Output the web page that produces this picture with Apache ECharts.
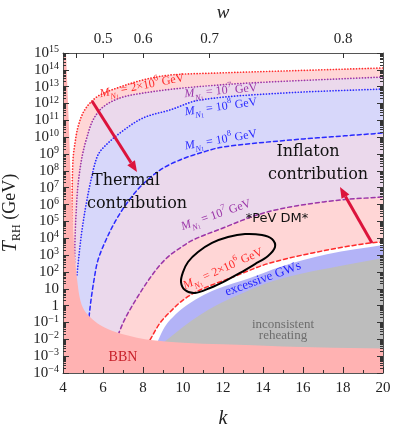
<!DOCTYPE html>
<html><head><meta charset="utf-8">
<script src="https://cdn.jsdelivr.net/npm/echarts@6.0.0/dist/echarts.min.js"></script>
<style>html,body{margin:0;padding:0;background:#fff;}#chart{width:394px;height:428px;}</style>
</head><body><div id="chart"></div>
<script>
// ---------------- data (k, log10 T_RH) ----------------
const kRange = [4, 20];
const kStep = 2;
const logTRange = [-4, 15];
const wTicks = [0.4, 0.5, 0.6, 0.7, 0.8];
const wLabels = [0.5, 0.6, 0.7, 0.8];

const bbnEdge = [[4.15,15],[4.3,10.5],[4.4,7],[4.5,4.5],[4.6,2.8],[4.7,1.6],[4.85,0.4],[5.05,-0.25],[5.35,-0.68],[5.85,-1.15],[6.7,-1.6],[7.7,-1.9],[8.5,-2.05],[10,-2.2],[12,-2.3],[15,-2.42],[20,-2.55]];
const redDotted = [[4.43,4.49],[4.45,6.27],[4.5,8.65],[4.6,9.66],[4.75,10.61],[5.0,11.44],[5.35,12.03],[5.85,12.51],[6.85,12.98],[8.0,13.4],[9.35,13.69],[11.7,13.81],[15.0,13.93],[20,14.11]];
const purpleDotted = [[4.58,2.59],[4.6,3.9],[4.65,5.38],[4.75,7.16],[4.95,8.82],[5.2,10.01],[5.5,11.02],[6.0,11.79],[6.85,12.33],[8.0,12.62],[10.0,12.92],[13.35,13.22],[20,13.57]];
const blueDotted = [[4.7,1.82],[4.8,3.0],[4.95,4.49],[5.15,5.97],[5.4,7.46],[5.7,8.82],[6.0,9.36],[6.85,10.25],[8.0,11.14],[9.35,11.62],[10.85,12.21],[15.0,12.62],[20,12.86]];
const blueDashed = [[5.3,-0.68],[5.4,0.33],[5.55,1.52],[5.75,2.71],[6.15,3.9],[6.65,5.08],[7.2,6.09],[7.85,7.04],[8.85,8.05],[9.85,8.65],[10.85,9.06],[12.0,9.42],[15.35,9.83],[20,10.25]];
const purpleDashed = [[6.75,-1.75],[7.0,-1.03],[7.25,-0.44],[7.85,0.75],[8.35,1.64],[8.85,2.41],[9.35,3.0],[9.85,3.42],[10.5,3.9],[12.0,4.61],[13.7,5.38],[15.35,5.86],[17.85,6.27],[20,6.45]];
const redDashed = [[8.35,-2.04],[8.85,-1.03],[9.35,-0.38],[10.0,0.33],[10.85,0.93],[12.5,1.7],[14.35,2.53],[17.2,3.3],[19.35,3.72],[20,3.78]];
const gwTop = [[8.7,-2.22],[9.0,-1.45],[9.35,-0.86],[10.0,-0.14],[10.85,0.51],[11.7,0.99],[13.35,1.64],[14.85,2.3],[17.2,3.05],[20,3.6]];
const grayTop = [[9.0,-2.22],[10.0,-1.27],[10.85,-0.56],[11.7,0.04],[13.0,0.75],[14.35,1.4],[15.85,1.88],[17.85,2.35],[20,2.83]];
const pevLoop = [[10.0,1.99],[9.9,1.4],[10.1,0.93],[10.6,0.75],[11.35,1.05],[12.1,1.46],[12.85,1.94],[13.6,2.47],[14.25,2.95],[14.6,3.48],[14.45,3.95],[13.95,4.19],[13.1,4.25],[12.25,4.07],[11.45,3.72],[10.75,3.18],[10.25,2.59]];
const thermalArrow = [[5.45,12.15],[7.7,7.93]];
const inflatonArrow = [[19.45,3.72],[17.85,7.04]];

const massText = ['2×10|6', '10|7', '10|8', '10|8', '10|7', '2×10|6'];
// ------------------------------------------------------

const SERIF = "'Liberation Serif', 'DejaVu Serif', serif";
const C_RED = '#ff2a2a', C_PUR = '#9b35a8', C_BLU = '#2a2aff';
const kOfW = w => (2 + 2 * w) / (1 - w);
const wOfK = k => (k - 2) / (k + 2);
const rev = a => a.slice().reverse();

// smooth path through pixel points (tangent-based cubic Bezier)
function curveD(P, cmd, closed) {
  const n = P.length;
  const f = v => v.toFixed(2);
  let d = cmd + f(P[0][0]) + ',' + f(P[0][1]);
  if (n < 2) return d;
  const dir = i => {
    let a, b;
    if (closed) { a = P[(i - 1 + n) % n]; b = P[(i + 1) % n]; }
    else { a = P[Math.max(i - 1, 0)]; b = P[Math.min(i + 1, n - 1)]; }
    const dx = b[0] - a[0], dy = b[1] - a[1], l = Math.hypot(dx, dy) || 1;
    return [dx / l, dy / l];
  };
  const segs = closed ? n : n - 1;
  for (let i = 0; i < segs; i++) {
    const p1 = P[i], p2 = P[(i + 1) % n];
    const L = Math.hypot(p2[0] - p1[0], p2[1] - p1[1]) / 3;
    const d1 = dir(i), d2 = dir((i + 1) % n);
    d += 'C' + f(p1[0] + d1[0] * L) + ',' + f(p1[1] + d1[1] * L) + ' ' + f(p2[0] - d2[0] * L) + ',' + f(p2[1] - d2[1] * L) + ' ' + f(p2[0]) + ',' + f(p2[1]);
  }
  if (closed) d += 'Z';
  return d;
}

let zc = 1;
function custom(render) {
  return { type: 'custom', xAxisIndex: 0, yAxisIndex: 0, clip: true, silent: true, z: zc++, data: [[kRange[0], logTRange[0]]], renderItem: render };
}
function fillSeries(pieces, color) {
  return custom((p, api) => {
    let d = '';
    pieces.forEach((pc, i) => { d += curveD(pc.map(q => api.coord(q)), i === 0 ? 'M' : 'L', false); });
    return { type: 'path', shape: { pathData: d + 'Z' }, style: { fill: color } };
  });
}
function lineSeries(pts, color, dash, width, closed) {
  return custom((p, api) => ({ type: 'path', shape: { pathData: curveD(pts.map(q => api.coord(q)), 'M', !!closed) },
    style: { fill: null, stroke: color, lineWidth: width, lineDash: dash, lineCap: 'round', lineJoin: 'round' } }));
}
function arrowSeries(pts, color) {
  return custom((p, api) => {
    const a = api.coord(pts[0]), b = api.coord(pts[1]);
    const dx = b[0] - a[0], dy = b[1] - a[1], len = Math.hypot(dx, dy), ux = dx / len, uy = dy / len;
    const hl = 11, hw = 4.5, base = [b[0] - ux * hl, b[1] - uy * hl];
    return { type: 'group', children: [
      { type: 'line', shape: { x1: a[0], y1: a[1], x2: base[0], y2: base[1] }, style: { stroke: color, lineWidth: 3 } },
      { type: 'polygon', shape: { points: [b, [base[0] - uy * hw, base[1] + ux * hw], [base[0] + uy * hw, base[1] - ux * hw]] }, style: { fill: color } }
    ] };
  });
}

const tail = [[kRange[0], logTRange[0]]];
const DOT = [0.1, 2.8], DASH = [4, 3];
const series = [
  fillSeries([redDotted, rev(redDashed), tail], '#ffd6d6'),
  fillSeries([purpleDotted, rev(purpleDashed), tail], '#ebd9ec'),
  fillSeries([blueDotted, rev(blueDashed), tail], '#d7d7fa'),
  fillSeries([gwTop, [[20, -4], [gwTop[0][0], -4]]], '#b3b3f7'),
  fillSeries([grayTop, [[20, -4], [grayTop[0][0], -4]]], '#bdbdbd'),
  lineSeries(redDotted, C_RED, DOT, 1.7),
  lineSeries(purpleDotted, C_PUR, DOT, 1.7),
  lineSeries(blueDotted, C_BLU, DOT, 1.7),
  lineSeries(blueDashed, C_BLU, DASH, 1.5),
  lineSeries(purpleDashed, C_PUR, DASH, 1.5),
  lineSeries(redDashed, C_RED, DASH, 1.5),
  fillSeries([[[4, -4], [4, 15]], bbnEdge, [[20, -4]]], '#ffb2b2'),
  lineSeries(pevLoop, '#000', null, 2, true),
  arrowSeries(thermalArrow, '#dc143c'),
  arrowSeries(inflatonArrow, '#dc143c')
];

function minorVals() {
  const out = [];
  for (let n = logTRange[0]; n < logTRange[1]; n++) for (let m = 2; m <= 9; m++) out.push(n + Math.log10(m));
  return out;
}
function yFmt(v) {
  v = Math.round(v);
  if (v === 0) return '1';
  if (v === 1) return '10';
  return '10{sup|' + (v < 0 ? '−' + (-v) : v) + '}';
}
const AX = '#555';
const yBase = { type: 'value', min: logTRange[0], max: logTRange[1], interval: 1, z: 30,
  axisLine: { show: true, onZero: false, lineStyle: { color: AX } }, splitLine: { show: false } };

function massLabel(idx, x, y, deg, color, size) {
  const parts = massText[idx].split('|');
  const s = size;
  return { type: 'text', x: x, y: y, rotation: deg * Math.PI / 180, z: 100, silent: true,
    style: { text: '{i|M}{s|N}{ss|1}{n| = ' + parts[0] + '}{p|' + parts[1] + '}{n| GeV}',
      align: 'center', verticalAlign: 'middle', textAlign: 'center', textVerticalAlign: 'middle', fill: color,
      rich: {
        i: { fontFamily: SERIF, fontStyle: 'italic', fontSize: s, lineHeight: s + 6, fill: color },
        s: { fontFamily: SERIF, fontStyle: 'italic', fontSize: s * 0.7, lineHeight: s * 0.95, verticalAlign: 'bottom', fill: color },
        ss: { fontFamily: SERIF, fontSize: s * 0.5, lineHeight: s * 0.6, verticalAlign: 'bottom', fill: color },
        n: { fontFamily: SERIF, fontSize: s, lineHeight: s + 6, fill: color },
        p: { fontFamily: SERIF, fontSize: s * 0.7, lineHeight: s * 0.85, verticalAlign: 'top', fill: color }
      } } };
}
function txt(x, y, text, font, color, deg) {
  return { type: 'text', x: x, y: y, rotation: (deg || 0) * Math.PI / 180, z: 100, silent: true,
    style: { text: text, font: font, fill: color, align: 'center', verticalAlign: 'middle', textAlign: 'center', textVerticalAlign: 'middle' } };
}

const option = {
  animation: false,
  backgroundColor: '#fff',
  grid: { left: 63, right: 11, top: 53, bottom: 55, containLabel: false, outerBoundsMode: 'none' },
  xAxis: [
    { type: 'value', min: kRange[0], max: kRange[1], interval: kStep, position: 'bottom', z: 30,
      axisLine: { show: true, onZero: false, lineStyle: { color: AX } },
      axisTick: { inside: true, length: 6, lineStyle: { color: '#333' } },
      minorTick: { show: true, splitNumber: 2, length: 3, lineStyle: { color: '#333' } },
      splitLine: { show: false },
      axisLabel: { fontFamily: SERIF, fontSize: 15, color: '#222', margin: 8 },
      name: 'k', nameLocation: 'middle', nameGap: 36,
      nameTextStyle: { fontFamily: SERIF, fontStyle: 'italic', fontSize: 20, color: '#222' } },
    { type: 'value', min: kRange[0], max: kRange[1], position: 'top', z: 30,
      axisLine: { show: true, onZero: false, lineStyle: { color: AX } },
      axisTick: { inside: true, length: 5, customValues: wTicks.map(kOfW), lineStyle: { color: '#333' } },
      splitLine: { show: false },
      axisLabel: { customValues: wLabels.map(kOfW), formatter: v => wOfK(v).toFixed(1), fontFamily: SERIF, fontSize: 15, color: '#222', margin: 6 },
      name: 'w', nameLocation: 'middle', nameGap: 31,
      nameTextStyle: { fontFamily: SERIF, fontStyle: 'italic', fontSize: 19, color: '#222' } }
  ],
  yAxis: [
    Object.assign({}, yBase, { position: 'left',
      axisTick: { inside: true, length: 6, lineStyle: { color: '#333' } },
      axisLabel: { formatter: yFmt, fontFamily: SERIF, fontSize: 15, color: '#222', margin: 4, lineHeight: 17,
        rich: { sup: { fontFamily: SERIF, fontSize: 10, lineHeight: 10, verticalAlign: 'top', color: '#222' } } },
      name: '{it|T}{sub|RH} (GeV)', nameLocation: 'middle', nameGap: 40, nameRotate: 90,
      nameTextStyle: { fontFamily: SERIF, fontSize: 18, color: '#222', lineHeight: 24,
        rich: { it: { fontFamily: SERIF, fontStyle: 'italic', fontSize: 20, lineHeight: 24, color: '#222' },
                sub: { fontFamily: SERIF, fontSize: 12, lineHeight: 14, verticalAlign: 'bottom', color: '#222' } } } }),
    Object.assign({}, yBase, { position: 'right',
      axisTick: { inside: true, length: 6, lineStyle: { color: '#333' } }, axisLabel: { show: false } }),
    Object.assign({}, yBase, { position: 'left', axisLine: { show: false, onZero: false },
      axisTick: { inside: true, length: 3, customValues: minorVals(), lineStyle: { color: '#333' } }, axisLabel: { show: false } }),
    Object.assign({}, yBase, { position: 'right', axisLine: { show: false, onZero: false },
      axisTick: { inside: true, length: 3, customValues: minorVals(), lineStyle: { color: '#333' } }, axisLabel: { show: false } })
  ],
  series: series,
  graphic: { elements: [
    massLabel(0, 142, 86, 11, C_RED, 12),
    massLabel(1, 221, 91, 5, C_PUR, 12),
    massLabel(2, 221, 107, 8, C_BLU, 12),
    massLabel(3, 221, 140, 10, C_BLU, 12),
    massLabel(4, 216, 215, 19, C_PUR, 12),
    massLabel(5, 223, 269, 24, C_RED, 12),
    txt(263, 279, 'excessive GWs', '13px ' + SERIF, '#1f1fff', 20),
    txt(283, 325, 'inconsistent', '13px ' + SERIF, '#6e6e6e'),
    txt(283, 336, 'reheating', '13px ' + SERIF, '#6e6e6e'),
    txt(123, 357, 'BBN', '14px ' + SERIF, '#c8202a'),
    txt(126, 181, 'Thermal', "16px 'DejaVu Serif'", '#111'),
    txt(137, 204, 'contribution', "16px 'DejaVu Serif'", '#111'),
    txt(308, 152, 'Inflaton', "16px 'DejaVu Serif'", '#111'),
    txt(318, 175, 'contribution', "16px 'DejaVu Serif'", '#111'),
    txt(277, 219, '*PeV DM*', "13px 'DejaVu Sans'", '#111')
  ] }
};
const chart = echarts.init(document.getElementById('chart'), null, { renderer: 'canvas' });
chart.setOption(option);
</script></body></html>
